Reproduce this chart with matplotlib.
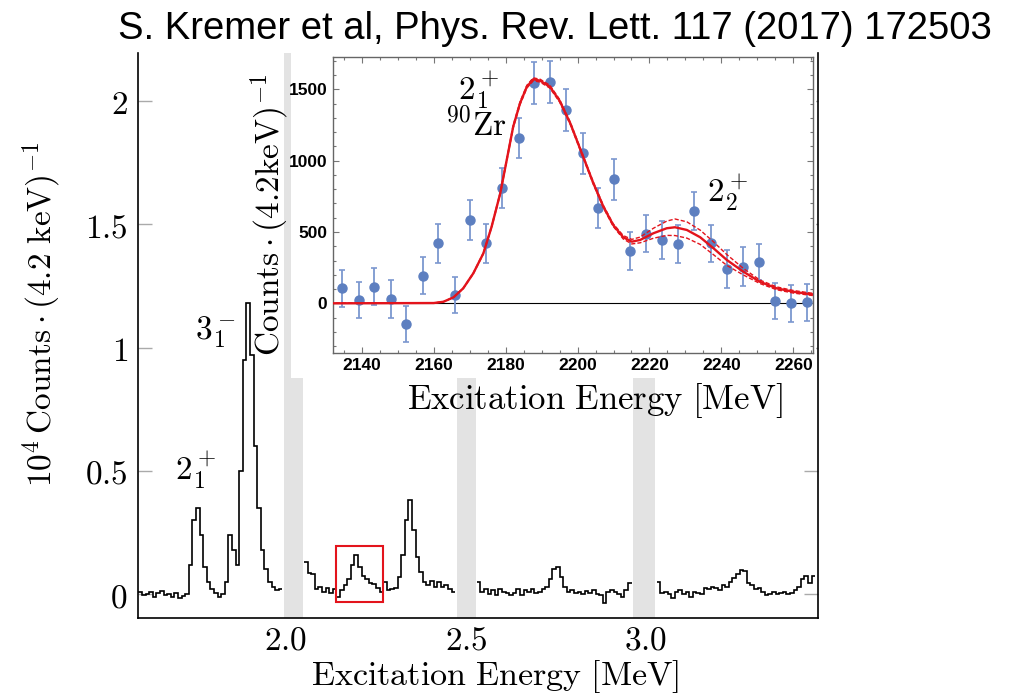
import numpy as np
import matplotlib.pyplot as plt
from matplotlib.patches import Rectangle
from matplotlib.ticker import MultipleLocator

plt.rcParams['mathtext.fontset'] = 'cm'

W, H = 1024, 697

def fx(px):
    return px / W

def fy(py):
    return 1 - py / H

# main spectrum: 10 keV bins, four segments separated by the excluded (grey) regions
bin_width = 0.01
seg_starts = [1.59, 2.05, 2.53, 3.03]
seg1 = [0.01, -0.005, 0.0, 0.008, -0.01, 0.005, 0.012, -0.003, 0.0, -0.012, 0.004, -0.015, -0.008,
        0.0, 0.12, 0.30, 0.35, 0.24, 0.11, 0.05, 0.02, 0.005, -0.01, 0.0, 0.05, 0.24, 0.18, 0.12,
        0.50, 0.95, 1.18, 0.97, 0.60, 0.35, 0.18, 0.10, 0.05, 0.03, 0.015, 0.02]
seg2 = [0.13, 0.085, 0.08, 0.02, 0.03, 0.01, 0.025, 0.005, 0.02, -0.01, 0.015, 0.035, 0.06, 0.12,
        0.16, 0.11, 0.075, 0.06, 0.045, 0.04, 0.025, 0.01, 0.05, 0.015, 0.02, 0.025, 0.07, 0.16,
        0.30, 0.38, 0.26, 0.15, 0.09, 0.05, 0.035, 0.055, 0.03, 0.05, 0.03, 0.035, 0.02, 0.01]
seg3 = [0.05, 0.01, 0.02, 0.0, 0.015, -0.005, 0.02, 0.01, 0.005, -0.005, 0.005, 0.02, -0.002, 0.015,
        0.01, 0.02, 0.005, 0.01, 0.02, 0.03, 0.06, 0.10, 0.11, 0.07, 0.03, 0.01, 0.015, 0.005, 0.01,
        0.0, 0.012, 0.005, 0.015, 0.0, -0.005, -0.035, 0.01, 0.015, 0.01, 0.0, -0.01, 0.015, 0.045]
seg4 = [0.05, 0.005, 0.01, 0.0, -0.015, 0.01, 0.015, 0.0, 0.01, -0.01, 0.01, 0.005, 0.0, 0.025,
        0.02, 0.03, 0.025, 0.015, 0.035, 0.03, 0.05, 0.065, 0.08, 0.097, 0.095, 0.045, 0.035, 0.02,
        0.025, 0.01, -0.002, 0.0, 0.01, 0.0, 0.005, 0.008, 0.0, 0.005, 0.015, 0.03, 0.06, 0.075,
        0.045, 0.075]
segments = [seg1, seg2, seg3, seg4]

band_lo = [1.995, 2.475, 2.965]
band_hi = [2.047, 2.528, 3.025]
box_e = [2.139, 2.269]
box_y = [-0.031, 0.195]

main_xticks = [2.0, 2.5, 3.0]
main_xticklabels = ['2.0', '2.5', '3.0']
main_yticks = [0, 0.5, 1, 1.5, 2]
main_yticklabels = ['0', '0.5', '1', '1.5', '2']

# inset: data points with errors and fit curve (+/- band)
pt_e = [2134.6, 2139.2, 2143.5, 2148.0, 2152.4, 2157.0, 2161.3, 2165.8, 2170.2, 2174.6,
        2179.1, 2183.6, 2188.0, 2192.4, 2196.8, 2201.4, 2205.8, 2210.2, 2214.6, 2219.1,
        2223.6, 2228.0, 2232.5, 2237.0, 2241.5, 2245.9, 2250.5, 2254.8, 2259.3, 2263.7]
pt_y = [105, 23, 117, 30, -145, 192, 420, 58, 584, 420, 811, 1157, 1542, 1549, 1355, 1051,
        666, 869, 367, 488, 442, 418, 647, 420, 238, 257, 290, 16, 0, 7]
pt_err = [128, 128, 128, 130, 126, 130, 134, 128, 138, 134, 140, 142, 146, 146, 150, 145,
          140, 142, 131, 131, 132, 132, 135, 132, 134, 137, 128, 126, 128, 131]

curve_e = [2131, 2160, 2162.7, 2165.5, 2168.2, 2171.0, 2173.8, 2176.1, 2178.5, 2180.3,
           2182.1, 2184.0, 2185.9, 2187.7, 2189.6, 2192.3, 2195, 2198, 2201.2, 2204.4,
           2207.2, 2209.9, 2212.7, 2215.1, 2217.4, 2221.1, 2224.8, 2227.1, 2230.4, 2234.1,
           2237.8, 2241.5, 2246.1, 2250.7, 2255.4, 2260, 2264.6, 2267]
curve_y = [0, 2, 11, 42, 105, 210, 350, 537, 771, 1004,
           1238, 1402, 1518, 1570, 1560, 1518, 1420, 1260, 1051, 841,
           677, 549, 463, 432, 444, 491, 526, 533, 514, 463,
           386, 304, 222, 151, 105, 81, 65, 58]
curve_hi = [0, 2, 11, 43, 107, 213, 354, 543, 779, 1013,
            1248, 1412, 1528, 1580, 1570, 1528, 1429, 1268, 1059, 849,
            685, 558, 475, 448, 464, 526, 576, 591, 571, 513,
            431, 342, 245, 163, 115, 90, 73, 66]
curve_lo = [0, 2, 11, 41, 103, 207, 346, 531, 763, 995,
            1228, 1392, 1508, 1560, 1550, 1508, 1411, 1252, 1043, 833,
            669, 540, 451, 416, 424, 456, 476, 475, 457, 413,
            341, 266, 199, 139, 95, 72, 57, 50]

red = '#e3141c'
fig = plt.figure(figsize=(W / 100, H / 100), dpi=100)

# ---- main spectrum
ax = fig.add_axes([fx(137.5), fy(618), fx(818) - fx(137.5), fy(53) - fy(618)], zorder=0)
for lo, hi in zip(band_lo, band_hi):
    ax.axvspan(lo, hi, color='#e3e3e3', lw=0, zorder=0)
for start, vals in zip(seg_starts, segments):
    edges = start + bin_width * np.arange(len(vals) + 1)
    ax.stairs(vals, edges, baseline=None, color='k', lw=1.2, zorder=2)
ax.add_patch(Rectangle((box_e[0], box_y[0]), box_e[1] - box_e[0], box_y[1] - box_y[0],
                       fill=False, ec=red, lw=1.5, zorder=3))
ax.set_xlim(1.5875, 3.478)
ax.set_ylim(-0.097, 2.195)
ax.set_xticks(main_xticks)
ax.set_xticklabels(['$%s$' % t for t in main_xticklabels])
ax.set_yticks(main_yticks)
ax.set_yticklabels(['$%s$' % t for t in main_yticklabels])
ax.tick_params(axis='y', direction='in', length=10, width=1, color='#aaaaaa', right=True,
               labelsize=24, pad=7)
ax.tick_params(axis='x', length=0, labelsize=24, pad=4)
ax.spines['top'].set_visible(False)
for s in ['left', 'bottom', 'right']:
    ax.spines[s].set_linewidth(1.2)

fig.text(fx(495), fy(677), r'$\mathrm{Excitation\ Energy\ [MeV]}$', fontsize=24.5,
         ha='center', va='center')
fig.text(fx(42), fy(314), r'$10^4\,\mathrm{Counts}\cdot(4.2\ \mathrm{keV})^{-1}$', fontsize=24,
         ha='center', va='center', rotation=90)
fig.text(fx(196), fy(470), r'$2^+_1$', fontsize=24, ha='center', va='center')
fig.text(fx(215), fy(332), r'$3^-_1$', fontsize=24, ha='center', va='center')

# white background behind the inset
fig.patches.append(Rectangle((fx(291), fy(378)), fx(816) - fx(291), fy(53) - fy(378),
                             transform=fig.transFigure, fc='white', ec='none', zorder=1))

# ---- inset
ins = fig.add_axes([fx(332.7), fy(352.7), fx(812.7) - fx(332.7), fy(57) - fy(352.7)], zorder=2)
ins.axhline(0, color='k', lw=0.8, zorder=1)
ins.errorbar(pt_e, pt_y, yerr=pt_err, fmt='o', color='#5d7fc0', ecolor='#7b97cf', ms=6.5,
             elinewidth=1.3, capsize=2.5, capthick=1.2, zorder=2)
ins.plot(curve_e, curve_hi, color=red, lw=1.0, ls=(0, (3, 1.5)), zorder=3)
ins.plot(curve_e, curve_lo, color=red, lw=1.0, ls=(0, (3, 1.5)), zorder=3)
ins.plot(curve_e, curve_y, color=red, lw=1.7, zorder=4)
ins.set_xlim(2131.9, 2265.4)
ins.set_ylim(-346, 1726)
ins.xaxis.set_major_locator(MultipleLocator(20))
ins.xaxis.set_minor_locator(MultipleLocator(5))
ins.yaxis.set_major_locator(MultipleLocator(500))
ins.yaxis.set_minor_locator(MultipleLocator(100))
ins.tick_params(which='both', direction='in', top=True, right=True, color='#777777', width=0.8)
ins.tick_params(which='major', length=4, pad=4)
ins.tick_params(which='minor', length=2)
for lab in ins.get_xticklabels() + ins.get_yticklabels():
    lab.set_fontfamily('Liberation Sans')
    lab.set_fontweight('bold')
    lab.set_fontsize(12.5)
for s in ins.spines.values():
    s.set_color('#666666')
    s.set_linewidth(1.0)

fig.text(fx(595), fy(400), r'$\mathrm{Excitation\ Energy\ [MeV]}$', fontsize=25,
         ha='center', va='center', zorder=5)
fig.text(fx(270), fy(215), r'$\mathrm{Counts}\cdot(4.2\mathrm{keV})^{-1}$', fontsize=24,
         ha='center', va='center', rotation=90, zorder=5)
fig.text(fx(479), fy(90), r'$2^+_1$', fontsize=24, ha='center', va='center', zorder=5)
fig.text(fx(476), fy(125), r'$\mathrm{{}^{90}Zr}$', fontsize=24, ha='center', va='center', zorder=5)
fig.text(fx(728), fy(193), r'$2^+_2$', fontsize=24, ha='center', va='center', zorder=5)

fig.text(fx(555), fy(29), 'S. Kremer et al, Phys. Rev. Lett. 117 (2017) 172503',
         family='Liberation Sans', fontsize=27.5, ha='center', va='center')

fig.savefig('out.png', dpi=100)
